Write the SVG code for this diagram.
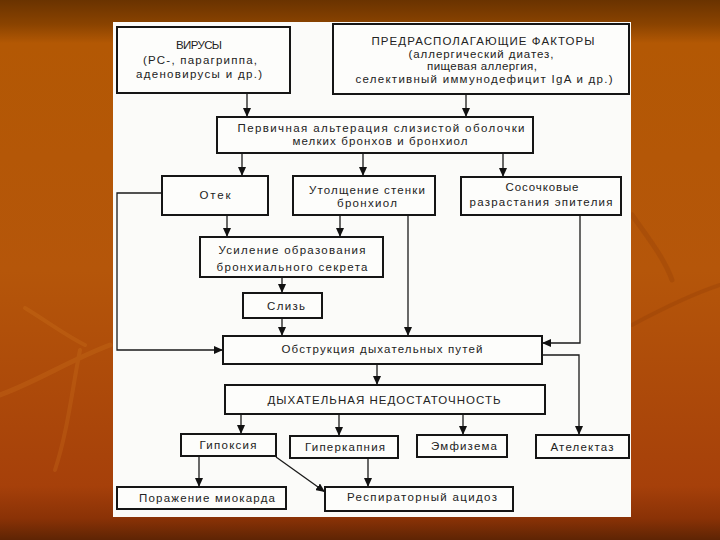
<svg xmlns="http://www.w3.org/2000/svg" width="720" height="540" viewBox="0 0 720 540">
<defs>
<linearGradient id="bg" x1="0" y1="0" x2="0" y2="1">
<stop offset="0" stop-color="#6a3300"/>
<stop offset="0.045" stop-color="#8a4300"/>
<stop offset="0.08" stop-color="#b35804"/>
<stop offset="0.5" stop-color="#b5560a"/>
<stop offset="0.9" stop-color="#a6400a"/>
<stop offset="0.96" stop-color="#8a3206"/>
<stop offset="1" stop-color="#5e2404"/>
</linearGradient>
<marker id="ah" markerUnits="userSpaceOnUse" markerWidth="9" markerHeight="8" refX="9" refY="4" orient="auto">
<path d="M0,0 L9,4 L0,8 Z" fill="#111"/>
</marker>
<style>
.box{fill:#fdfdfb;stroke:#151515;stroke-width:2}
.t{font-family:"Liberation Sans",Arial,sans-serif;font-size:11.5px;fill:#222;text-anchor:middle}
.c{fill:none;stroke:#1a1a1a;stroke-width:1.3}
.a{marker-end:url(#ah)}
.leaf{fill:none;stroke-linecap:round}
</style>
</defs>
<rect width="720" height="540" fill="url(#bg)"/>
<g id="decor" opacity="0.18">
<path class="leaf" d="M0,395 C40,380 70,360 110,345" stroke="#e08a2a" stroke-width="5"/>
<path class="leaf" d="M25,308 C45,320 65,335 85,345" stroke="#e08a2a" stroke-width="4"/>
<path class="leaf" d="M80,350 C72,390 68,430 55,470" stroke="#e08a2a" stroke-width="4"/>
<path class="leaf" d="M632,215 C650,240 665,260 672,280" stroke="#7a2c04" stroke-width="5"/>
<path class="leaf" d="M632,325 C660,310 690,295 720,285" stroke="#7a2c04" stroke-width="4"/>
</g>
<rect x="113" y="22" width="518" height="495" fill="#fbfbf9"/>
<g id="connectors">
<line class="c a" x1="247" y1="93" x2="247" y2="117"/>
<line class="c a" x1="466" y1="94" x2="466" y2="117"/>
<line class="c a" x1="242" y1="153" x2="242" y2="176"/>
<line class="c a" x1="363" y1="153" x2="363" y2="176"/>
<line class="c a" x1="503" y1="153" x2="503" y2="177"/>
<polyline class="c a" points="162,193 117,193 117,350 223,350"/>
<line class="c a" x1="227" y1="215" x2="227" y2="237"/>
<line class="c a" x1="340" y1="215" x2="340" y2="237"/>
<line class="c a" x1="408" y1="215" x2="408" y2="336"/>
<polyline class="c a" points="580,215 580,343 542,343"/>
<line class="c a" x1="282" y1="277" x2="282" y2="293"/>
<line class="c a" x1="282" y1="318" x2="282" y2="336"/>
<line class="c a" x1="377" y1="364" x2="377" y2="385"/>
<polyline class="c a" points="542,355 579,355 579,435"/>
<line class="c a" x1="241" y1="414" x2="241" y2="434"/>
<line class="c a" x1="339" y1="414" x2="339" y2="436"/>
<line class="c a" x1="463" y1="414" x2="463" y2="435"/>
<line class="c a" x1="199" y1="456" x2="199" y2="487"/>
<line class="c a" x1="276" y1="457" x2="325" y2="492"/>
<line class="c a" x1="368" y1="458" x2="368" y2="487"/>
</g>
<g id="n-viruses">
<rect class="box" x="117" y="27" width="173" height="66"/>
<text class="t" x="199" y="49" textLength="46" lengthAdjust="spacing">ВИРУСЫ</text>
<text class="t" x="200" y="64" textLength="114" lengthAdjust="spacing">(РС-, парагриппа,</text>
<text class="t" x="199" y="78" textLength="126" lengthAdjust="spacing">аденовирусы и др.)</text>
</g>
<g id="n-factors">
<rect class="box" x="333" y="24" width="296" height="70"/>
<text class="t" x="483" y="45" textLength="223" lengthAdjust="spacing">ПРЕДРАСПОЛАГАЮЩИЕ ФАКТОРЫ</text>
<text class="t" x="481" y="58" textLength="145" lengthAdjust="spacing">(аллергический диатез,</text>
<text class="t" x="482" y="70" textLength="110" lengthAdjust="spacing">пищевая аллергия,</text>
<text class="t" x="484" y="83" textLength="257" lengthAdjust="spacing">селективный иммунодефицит IgA и др.)</text>
</g>
<g id="n-alteration">
<rect class="box" x="217" y="117" width="316" height="36"/>
<text class="t" x="381" y="132" textLength="287" lengthAdjust="spacing">Первичная альтерация слизистой оболочки</text>
<text class="t" x="380" y="145" textLength="175" lengthAdjust="spacing">мелких бронхов и бронхиол</text>
</g>
<g id="n-edema">
<rect class="box" x="162" y="176" width="106" height="39"/>
<text class="t" x="215" y="199" textLength="31" lengthAdjust="spacing">Отек</text>
</g>
<g id="n-thickening">
<rect class="box" x="293" y="176" width="142" height="39"/>
<text class="t" x="367" y="194" textLength="116" lengthAdjust="spacing">Утолщение стенки</text>
<text class="t" x="367" y="207" textLength="60" lengthAdjust="spacing">бронхиол</text>
</g>
<g id="n-papillary">
<rect class="box" x="461" y="177" width="160" height="38"/>
<text class="t" x="542" y="191" textLength="73" lengthAdjust="spacing">Сосочковые</text>
<text class="t" x="541" y="206" textLength="143" lengthAdjust="spacing">разрастания эпителия</text>
</g>
<g id="n-secretion">
<rect class="box" x="200" y="237" width="183" height="40"/>
<text class="t" x="292" y="254" textLength="147" lengthAdjust="spacing">Усиление образования</text>
<text class="t" x="292" y="271" textLength="151" lengthAdjust="spacing">бронхиального секрета</text>
</g>
<g id="n-mucus">
<rect class="box" x="243" y="293" width="79" height="25"/>
<text class="t" x="286" y="310" textLength="38" lengthAdjust="spacing">Слизь</text>
</g>
<g id="n-obstruction">
<rect class="box" x="223" y="336" width="319" height="28"/>
<text class="t" x="382" y="353" textLength="201" lengthAdjust="spacing">Обструкция дыхательных путей</text>
</g>
<g id="n-failure">
<rect class="box" x="225" y="385" width="320" height="29"/>
<text class="t" x="384" y="404" textLength="233" lengthAdjust="spacing">ДЫХАТЕЛЬНАЯ НЕДОСТАТОЧНОСТЬ</text>
</g>
<g id="n-hypoxia">
<rect class="box" x="181" y="434" width="95" height="22"/>
<text class="t" x="228" y="449" textLength="57" lengthAdjust="spacing">Гипоксия</text>
</g>
<g id="n-hypercapnia">
<rect class="box" x="290" y="436" width="108" height="22"/>
<text class="t" x="345" y="451" textLength="80" lengthAdjust="spacing">Гиперкапния</text>
</g>
<g id="n-emphysema">
<rect class="box" x="417" y="435" width="90" height="22"/>
<text class="t" x="464" y="450" textLength="66" lengthAdjust="spacing">Эмфизема</text>
</g>
<g id="n-atelectasis">
<rect class="box" x="536" y="435" width="93" height="23"/>
<text class="t" x="582" y="451" textLength="63" lengthAdjust="spacing">Ателектаз</text>
</g>
<g id="n-myocardium">
<rect class="box" x="117" y="487" width="169" height="22"/>
<text class="t" x="207" y="502" textLength="136" lengthAdjust="spacing">Поражение миокарда</text>
</g>
<g id="n-acidosis">
<rect class="box" x="325" y="487" width="188" height="24"/>
<text class="t" x="422" y="501" textLength="150" lengthAdjust="spacing">Респираторный ацидоз</text>
</g>
</svg>
